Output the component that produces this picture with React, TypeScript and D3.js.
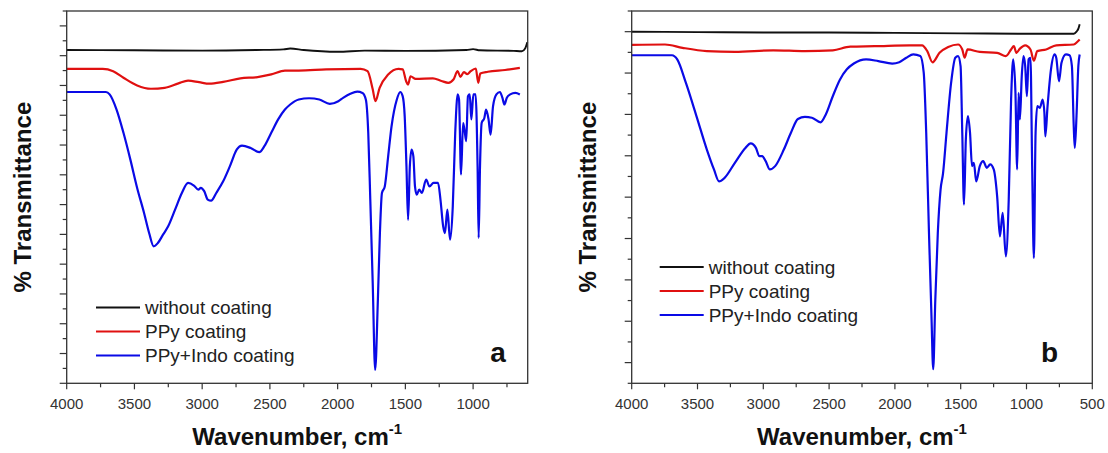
import React from "react";
import * as d3 from "d3";

type Pt = [number, number];

// Panel a (wavenumber cm^-1, % transmittance in arbitrary offset units)
const aWithout: Pt[] = [[4000,111.9],[3500,111.8],[3000,111.7],[2600,111.9],[2400,112.1],[2350,112.4],[2250,111.9],[2000,111.3],[1800,111.7],[1500,111.6],[1050,111.9],[1000,112.2],[950,111.8],[700,111.6],[640,111.5],[615,112.5],[600,114.5]];
const aPPy: Pt[] = [[4000,105.6],[3734,105.6],[3657,104.8],[3581,102.6],[3480,100.0],[3378,98.9],[3277,99.2],[3175,100.7],[3104,101.6],[3023,101.1],[2947,100.6],[2845,101.2],[2718,102.4],[2591,102.8],[2490,103.7],[2389,105.0],[2287,105.0],[2084,105.4],[1830,105.6],[1779,104.8],[1741,98.7],[1721,94.7],[1690,99.2],[1627,103.7],[1551,105.6],[1520,105.4],[1495,101.5],[1480,100.3],[1462,103.1],[1424,102.2],[1297,102.4],[1234,101.5],[1183,100.9],[1145,102.0],[1114,104.8],[1094,102.9],[1068,104.5],[1043,103.8],[1018,104.8],[980,105.7],[962,100.9],[947,104.0],[891,104.6],[764,105.2],[655,105.9]];
const aIndo: Pt[] = [[4000,97.8],[3710,97.8],[3683,97.0],[3632,91.9],[3581,84.1],[3530,75.1],[3480,65.6],[3429,57.2],[3391,50.4],[3358,46.0],[3327,47.1],[3289,49.9],[3251,52.7],[3200,58.3],[3150,63.9],[3104,67.3],[3061,66.4],[3028,65.0],[3010,65.6],[2985,64.5],[2959,61.7],[2934,61.3],[2896,63.9],[2845,67.8],[2795,72.9],[2744,78.5],[2706,79.8],[2642,79.0],[2579,77.6],[2541,79.6],[2490,84.1],[2439,88.6],[2389,91.9],[2350,93.6],[2287,95.3],[2211,95.7],[2135,95.3],[2058,93.8],[1995,94.7],[1957,95.9],[1906,97.2],[1855,97.9],[1817,97.5],[1792,95.3],[1774,84.1],[1759,61.7],[1741,33.6],[1723,4.5],[1703,28.0],[1688,50.4],[1673,63.9],[1652,66.1],[1627,76.2],[1602,86.3],[1563,95.3],[1538,97.8],[1520,96.4],[1505,89.7],[1492,72.9],[1480,54.9],[1467,72.9],[1454,78.5],[1441,76.2],[1429,66.1],[1416,63.3],[1398,65.0],[1378,63.9],[1347,68.4],[1322,66.1],[1292,67.3],[1259,67.3],[1241,61.7],[1221,52.7],[1208,50.4],[1190,58.3],[1170,48.2],[1150,59.4],[1132,84.1],[1114,97.0],[1104,95.3],[1089,70.1],[1074,87.4],[1064,85.2],[1051,81.3],[1038,96.4],[1025,97.0],[1013,88.6],[998,97.0],[982,97.0],[967,72.9],[959,48.8],[949,72.9],[937,87.4],[917,89.1],[904,91.9],[886,88.6],[871,83.5],[853,93.0],[828,97.0],[802,97.8],[784,95.9],[769,93.6],[751,95.9],[726,97.0],[688,97.5],[655,97.0]];

// Panel b
const bWithout: Pt[] = [[4000,85.0],[3500,84.9],[3000,84.8],[2500,84.8],[2000,84.7],[1500,84.6],[1000,84.5],[700,84.5],[640,84.5],[620,85.0],[605,85.8],[596,86.8]];
const bPPy: Pt[] = [[4000,81.8],[3747,81.9],[3614,81.1],[3429,80.3],[3216,80.1],[2924,80.5],[2684,80.3],[2472,80.5],[2339,81.4],[2153,81.5],[1887,81.7],[1794,81.7],[1754,80.3],[1714,77.6],[1661,79.9],[1595,81.3],[1520,81.9],[1488,80.7],[1470,78.7],[1448,80.7],[1355,80.1],[1223,79.9],[1157,79.1],[1117,80.7],[1096,81.5],[1077,79.9],[1050,80.9],[1010,81.7],[970,80.7],[944,78.0],[918,80.3],[851,80.7],[774,81.7],[641,81.9],[615,82.5],[596,83.1]];
const bIndo: Pt[] = [[4000,79.3],[3694,79.3],[3654,78.3],[3588,72.6],[3508,64.6],[3429,56.5],[3375,51.7],[3336,48.8],[3296,49.6],[3216,53.3],[3136,56.9],[3096,58.0],[3056,56.9],[3030,54.9],[3009,54.9],[2982,53.7],[2950,51.7],[2910,52.5],[2844,56.5],[2791,60.5],[2737,63.9],[2684,64.4],[2631,64.2],[2565,63.1],[2525,65.0],[2472,69.4],[2418,73.4],[2365,75.9],[2312,77.3],[2219,78.3],[2126,77.9],[2020,77.3],[1967,77.6],[1913,78.7],[1860,79.5],[1807,79.1],[1781,75.1],[1762,60.5],[1741,36.3],[1722,16.1],[1709,3.4],[1693,20.2],[1674,36.3],[1653,46.8],[1634,50.8],[1608,60.5],[1573,72.6],[1541,78.7],[1520,79.1],[1501,76.7],[1488,60.5],[1475,43.2],[1461,58.9],[1445,64.6],[1429,60.5],[1414,52.5],[1400,53.3],[1382,48.8],[1355,52.5],[1329,53.7],[1302,52.1],[1276,52.9],[1249,51.7],[1223,45.2],[1202,35.5],[1181,41.2],[1157,30.7],[1135,44.4],[1117,68.6],[1101,78.3],[1084,70.2],[1071,51.7],[1060,70.2],[1050,63.8],[1036,74.3],[1023,79.1],[1010,76.7],[997,69.4],[984,78.3],[970,78.7],[957,52.5],[944,30.3],[931,60.5],[918,67.0],[899,66.6],[877,68.6],[864,65.4],[857,59.7],[840,67.0],[814,75.9],[787,79.5],[774,78.7],[753,73.0],[734,77.5],[700,79.5],[673,79.3],[655,76.7],[641,62.1],[633,56.9],[620,64.6],[606,76.7],[596,79.5]];

const legendLabels = ["without coating", "PPy coating", "PPy+Indo coating"];
const seriesColors = ["#111111", "#e01010", "#0a0ae6"];
const panelLetters = ["a", "b"];
const xMajorA = [4000, 3500, 3000, 2500, 2000, 1500, 1000];
const xMajorB = [4000, 3500, 3000, 2500, 2000, 1500, 1000, 500];
const xMinor = [3750, 3250, 2750, 2250, 1750, 1250, 750];

const FONT = "'Liberation Sans', Arial, sans-serif";

interface PanelProps {
  left: number;
  right: number;
  xDomain: [number, number];
  yDomain: [number, number];
  yMajor: number[];
  yMinor: number[];
  xMajor: number[];
  series: Pt[][];
  letter: string;
  legendX: number;
  legendY: number;
  letterX: number;
}

const TOP = 11;
const BOTTOM = 383.3;

function Panel(p: PanelProps) {
  const x = d3.scaleLinear().domain(p.xDomain).range([p.left, p.right]);
  const y = d3.scaleLinear().domain(p.yDomain).range([BOTTOM, TOP]);
  const line = d3
    .line<Pt>()
    .x((d) => x(d[0]))
    .y((d) => y(d[1]))
    .curve(d3.curveMonotoneX);
  const cx = (p.left + p.right) / 2;
  return (
    <g>
      {p.series.map((s, i) => (
        <path key={i} d={line(s) || ""} fill="none" stroke={seriesColors[i]} strokeWidth={i === 0 ? 1.9 : 2.2} strokeLinejoin="round" />
      ))}
      <rect x={p.left} y={TOP} width={p.right - p.left} height={BOTTOM - TOP} fill="none" stroke="#333" strokeWidth={1.3} />
      {p.yMajor.map((v) => (
        <line key={"ym" + v} x1={p.left - 7} x2={p.left} y1={y(v)} y2={y(v)} stroke="#333" strokeWidth={1.2} />
      ))}
      {p.yMinor.map((v) => (
        <line key={"yn" + v} x1={p.left - 4} x2={p.left} y1={y(v)} y2={y(v)} stroke="#333" strokeWidth={1.2} />
      ))}
      {p.xMajor.map((v) => (
        <g key={"xm" + v}>
          <line x1={x(v)} x2={x(v)} y1={BOTTOM} y2={BOTTOM + 6} stroke="#333" strokeWidth={1.2} />
          <text x={x(v)} y={408.5} textAnchor="middle" fontSize={15} fill="#333" fontFamily={FONT}>
            {v}
          </text>
        </g>
      ))}
      {xMinor.map((v) => (
        <line key={"xn" + v} x1={x(v)} x2={x(v)} y1={BOTTOM} y2={BOTTOM + 4} stroke="#333" strokeWidth={1.2} />
      ))}
      <text x={cx} y={445} textAnchor="middle" fontSize={24} fontWeight="bold" fill="#111" fontFamily={FONT}>
        Wavenumber, cm
        <tspan fontSize={15} dy={-11}>-1</tspan>
      </text>
      <text
        transform={`translate(${p.left - 44},${(TOP + BOTTOM) / 2}) rotate(-90)`}
        textAnchor="middle"
        dominantBaseline="central"
        fontSize={24}
        fontWeight="bold"
        fill="#111"
        fontFamily={FONT}
      >
        % Transmittance
      </text>
      {legendLabels.map((lab, i) => (
        <g key={lab}>
          <line x1={p.legendX} x2={p.legendX + 44} y1={p.legendY + i * 24} y2={p.legendY + i * 24} stroke={seriesColors[i]} strokeWidth={2} />
          <text x={p.legendX + 49} y={p.legendY + i * 24 + 6.5} fontSize={19} fill="#222" fontFamily={FONT}>
            {lab}
          </text>
        </g>
      ))}
      <text x={p.letterX} y={362} textAnchor="middle" fontSize={28} fontWeight="bold" fill="#111" fontFamily={FONT}>
        {p.letter}
      </text>
    </g>
  );
}

export default function App() {
  return (
    <svg width={1108} height={453} style={{ position: "absolute", left: 0, top: 0, background: "#fff" }}>
      <rect width={1108} height={453} fill="#fff" />
      <Panel
        left={66.7}
        right={527.7}
        xDomain={[4000, 597]}
        yDomain={[0, 125]}
        yMajor={d3.range(0, 121, 10)}
        yMinor={d3.range(5, 126, 10)}
        xMajor={xMajorA}
        series={[aWithout, aPPy, aIndo]}
        letter={panelLetters[0]}
        legendX={96}
        legendY={307.5}
        letterX={498}
      />
      <Panel
        left={631.7}
        right={1092.3}
        xDomain={[4000, 500]}
        yDomain={[0, 90]}
        yMajor={d3.range(5, 86, 10)}
        yMinor={d3.range(0, 91, 10)}
        xMajor={xMajorB}
        series={[bWithout, bPPy, bIndo]}
        letter={panelLetters[1]}
        legendX={659.7}
        legendY={267}
        letterX={1049.5}
      />
    </svg>
  );
}
